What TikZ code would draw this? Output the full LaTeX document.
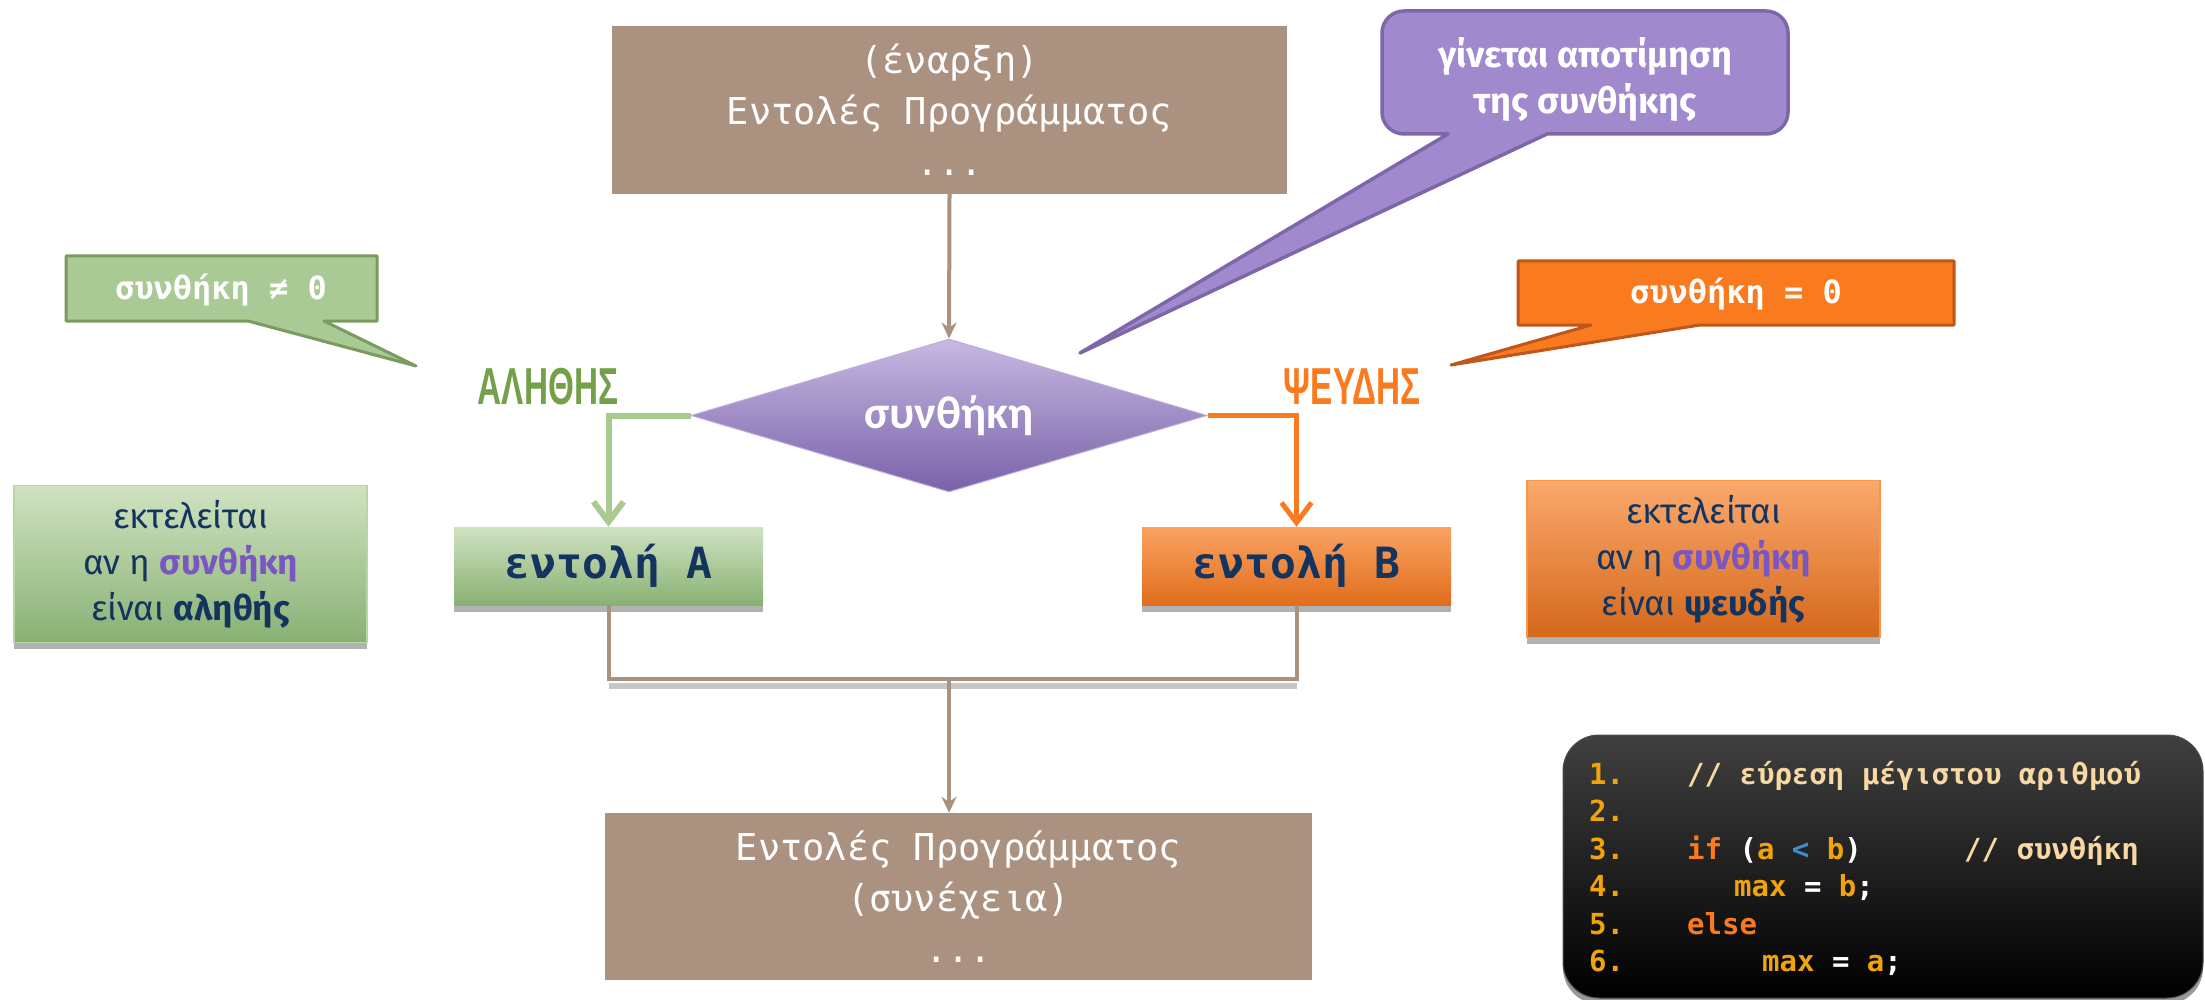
\documentclass[tikz,border=0pt]{standalone}
\usepackage{fontspec}
\setmainfont{Fira Sans}
\newfontfamily\monof{DejaVu Sans Mono}
\newfontfamily\notef{Fira Sans}
\newfontfamily\diamf{Carlito}
\newfontfamily\narrowf[FakeStretch=0.64]{Liberation Sans}
\usetikzlibrary{shapes.geometric,arrows.meta,shadows}
\definecolor{brownc}{HTML}{AB9180}
\definecolor{greenline}{HTML}{A9CB8F}
\definecolor{greenfill}{HTML}{A9C995}
\definecolor{greenborder}{HTML}{7A9A62}
\definecolor{greentext}{HTML}{74A04A}
\definecolor{orangec}{HTML}{F97A1F}
\definecolor{orangeborder}{HTML}{C0571A}
\definecolor{navy}{HTML}{13345F}
\definecolor{purpletxt}{HTML}{7A56C0}
\definecolor{purplefill}{HTML}{A08ACD}
\definecolor{purpleborder}{HTML}{7D67A8}
\definecolor{codeyellow}{HTML}{F0A30A}
\definecolor{codetan}{HTML}{F8D9A4}
\definecolor{codeblue}{HTML}{3F8FC4}
\begin{document}
\begin{tikzpicture}[x=1pt,y=-1pt,
  brownbox/.style={rectangle, fill=brownc, text=white, align=center, inner sep=0pt,
    font=\monof\fontsize{37}{51}\selectfont},
  cmdbox/.style={rectangle, inner sep=0pt, minimum width=309pt, minimum height=78pt,
    text=navy, font=\monof\bfseries\fontsize{43}{50}\selectfont,
    drop shadow={shadow xshift=0pt,shadow yshift=-7pt,opacity=0.3,fill=black}},
  notebox/.style={rectangle, inner sep=0pt, minimum width=353pt, minimum height=157pt,
    text=navy, align=center, font=\notef\fontsize{35}{46}\selectfont,
    drop shadow={shadow xshift=0pt,shadow yshift=-6pt,opacity=0.3,fill=black}},
  conn/.style={draw=brownc, line width=4pt},
  calltxt/.style={text=white, inner sep=0pt, font=\monof\bfseries\fontsize{32}{40}\selectfont},
  branchlbl/.style={inner sep=0pt, font=\narrowf\bfseries\fontsize{52}{56}\selectfont},
  codetxt/.style={anchor=base west, inner sep=0pt, font=\monof\bfseries\fontsize{29}{35}\selectfont},
  numtxt/.style={codetxt, text=codeyellow}
]
\useasboundingbox (0,0) rectangle (2205,1000);
\fill[white] (0,0) rectangle (2205,1000);

% top and bottom program boxes
\node[brownbox, minimum width=675pt, minimum height=168pt] (top) at (949.5,110)
  {(έναρξη)\\Εντολές Προγράμματος\\...};
\node[brownbox, minimum width=707pt, minimum height=167pt] (bot) at (958.5,896.5)
  {Εντολές Προγράμματος\\(συνέχεια)\\...};

% decision diamond
\node[diamond, aspect=3.37, minimum width=516pt, minimum height=153pt, inner sep=0pt,
  top color=purplefill!60!white, bottom color=purplefill!55!purpletxt!85!black,
  draw=purplefill!70!white, line width=1pt,
  text=white, font=\diamf\bfseries\fontsize{46}{50}\selectfont] (dia) at (949,415.5) {συνθήκη};

% command boxes
\node[cmdbox, top color=greenline!55!white, bottom color=greenline!85!black!95!green] (A) at (608.5,566) {εντολή A};
\node[cmdbox, top color=orangec!70!white, bottom color=orangec!90!black] (B) at (1296.5,566) {εντολή B};

% connectors
\draw[conn, -{Stealth[length=16pt,width=15pt]}] (top.south) -- (dia.north);
\draw[draw=greenline, line width=6pt, -{Straight Barb[length=20pt,width=30pt]}] (dia.west) -| (A.north);
\draw[draw=orangec, line width=5pt, -{Straight Barb[length=20pt,width=30pt]}] (dia.east) -| (B.north);
\coordinate (jl) at (608.5,679);
\coordinate (jr) at (1296.5,679);
\coordinate (jm) at (949,679);
\draw[line width=6pt, black, opacity=0.22] ([yshift=-7pt]jl) -- ([yshift=-7pt]jr);
\draw[conn] (A.south) -- (jl) -- (jr) -- (B.south);
\draw[conn, -{Stealth[length=16pt,width=15pt]}] (jm) -- (jm |- bot.north);

% branch labels
\node[branchlbl, text=greentext] (tlbl) at (548,387) {ΑΛΗΘΗΣ};
\node[branchlbl, text=orangec] (flbl) at (1352,387) {ΨΕΥΔΗΣ};

% green callout
\draw[fill=greenfill, draw=greenborder, line width=3pt, line join=round]
  (66,256) -- (377,256) -- (377,321) -- (324,321) -- (416,366) -- (248,321) -- (66,321) -- cycle;
\node[calltxt] (gc) at (221,290) {συνθήκη ≠ 0};

% orange callout
\draw[fill=orangec, draw=orangeborder, line width=3pt, line join=round]
  (1518,261) -- (1954,261) -- (1954,325) -- (1700,325) -- (1451,365) -- (1591,325) -- (1518,325) -- cycle;
\node[calltxt] (oc) at (1736,294) {συνθήκη = 0};

% purple callout
\draw[fill=purplefill, draw=purpleborder, line width=3.5pt, line join=round]
  (1448,134) [rounded corners=22pt] -- (1382,134) -- (1382,11) -- (1788,11) -- (1788,134)
  [sharp corners] -- (1547,134) -- (1080,353) -- cycle;
\node[text=white, align=center, inner sep=0pt, font=\notef\bfseries\fontsize{36}{46}\selectfont]
  (pc) at (1585,79) {γίνεται αποτίμηση\\της συνθήκης};

% note boxes
\node[notebox, top color=greenline!55!white, bottom color=greenline!85!black!95!green,
  draw=greenline!80!white, line width=1.5pt] (na) at (190.5,564)
  {εκτελείται\\αν η \textbf{\textcolor{purpletxt}{συνθήκη}}\\είναι \textbf{αληθής}};
\node[notebox, top color=orangec!65!white, bottom color=orangec!85!black,
  draw=orangec!80!white, line width=1.5pt] (nb) at (1703.5,559)
  {εκτελείται\\αν η \textbf{\textcolor{purpletxt}{συνθήκη}}\\είναι \textbf{ψευδής}};

% code box
\node[rectangle, rounded corners=36pt, minimum width=640pt, minimum height=263pt, inner sep=0pt,
  top color=black!75, bottom color=black, draw=black!70, line width=1pt,
  drop shadow={shadow xshift=0pt,shadow yshift=-6pt,opacity=0.4,fill=black}] (code) at (1883,866.5) {};
\node[numtxt] (n1) at (1589,784) {1.};
\node[numtxt] (n2) at (1589,821.5) {2.};
\node[numtxt] (n3) at (1589,859) {3.};
\node[numtxt] (n4) at (1589,896.5) {4.};
\node[numtxt] (n5) at (1589,934) {5.};
\node[numtxt] (n6) at (1589,971.5) {6.};
\node[codetxt, text=codetan] (c1) at (1687,784) {// εύρεση μέγιστου αριθμού};
\node[codetxt, text=white] (c3) at (1687,859)
  {\textcolor{orangec}{if} (\textcolor{codeyellow}{a} \textcolor{codeblue}{<} \textcolor{codeyellow}{b})};
\node[codetxt, text=codetan] (c3b) at (1964,859) {// συνθήκη};
\node[codetxt, text=white] (c4) at (1734,896.5)
  {\textcolor{codeyellow}{max} = \textcolor{codeyellow}{b};};
\node[codetxt, text=orangec] (c5) at (1687,934) {else};
\node[codetxt, text=white] (c6) at (1762,971.5)
  {\textcolor{codeyellow}{max} = \textcolor{codeyellow}{a};};
\end{tikzpicture}
\end{document}
